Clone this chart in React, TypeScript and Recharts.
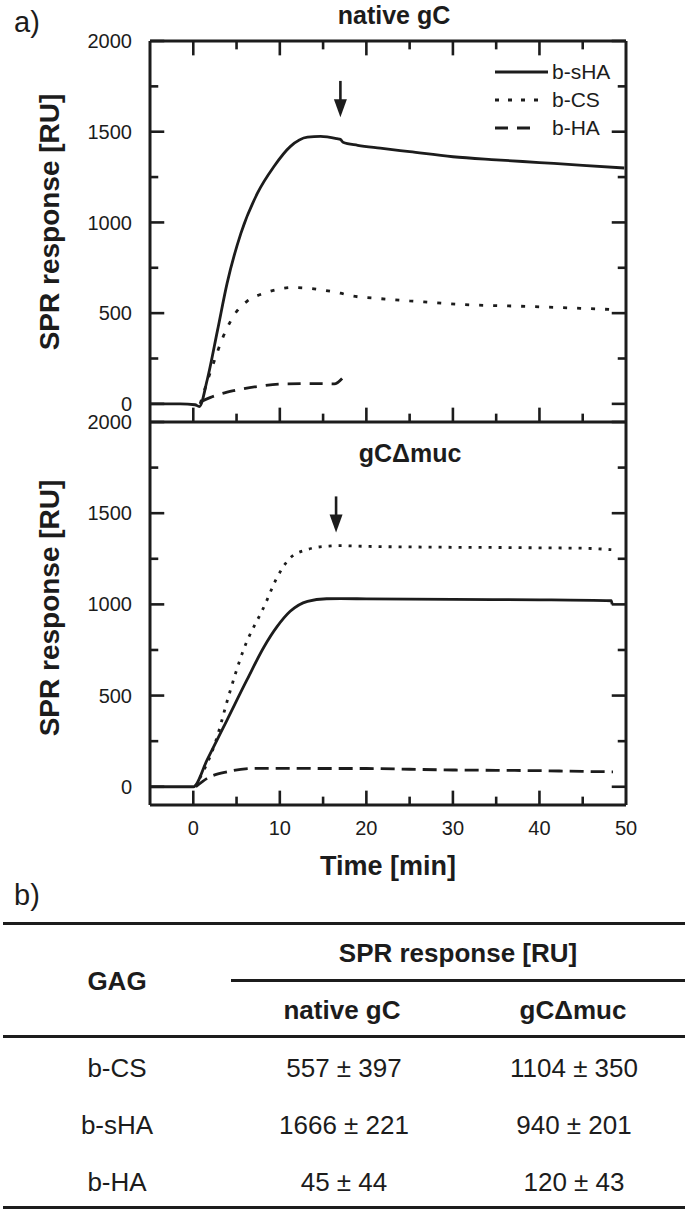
import React from 'react';
import {
    LineChart,
    Line,
    XAxis,
    YAxis,
    ReferenceLine,
    ReferenceDot,
    Legend,
} from 'recharts';

// ---- data ----
const xMajor = [0, 10, 20, 30, 40, 50];
const xMinor = [5, 15, 25, 35, 45];
const yMajor = [0, 500, 1000, 1500, 2000];
const yMinor = [250, 750, 1250, 1750];

// panel a, native gC
const nativeShaT = [-5, -1.5, 0.2, 0.7, 1.6, 2.8, 3.9, 5.5, 7.4, 9.3, 11.2, 13.2, 14.7, 16.6, 17.0, 17.3, 19, 21.6, 25, 30, 35, 40, 45, 49.8];
const nativeShaV = [0, 0, -5, -15, 130, 405, 663, 940, 1160, 1307, 1418, 1470, 1474, 1462, 1458, 1442, 1425, 1409, 1390, 1362, 1345, 1330, 1315, 1300];
const nativeCsT = [0.8, 1.8, 2.6, 3.2, 4.3, 5.1, 6.2, 8.2, 9.7, 11.4, 13.5, 15.1, 17, 18, 21.6, 25, 31, 38.6, 44, 48.8];
const nativeCsV = [0, 150, 260, 340, 455, 515, 565, 610, 630, 641, 636, 626, 610, 598, 580, 568, 548, 537, 528, 519];
const nativeHaT = [1.0, 2.0, 4.7, 7.4, 10.4, 13.9, 16.3, 17.2];
const nativeHaV = [15, 36, 73, 96, 110, 112, 110, 140];

// panel a, gC delta muc
const mucShaT = [-5, 0, 1.6, 3.9, 6.2, 8.2, 9.7, 11.2, 13.2, 15.4, 17, 20, 30, 40, 48.3, 48.4];
const mucShaV = [0, 0, 147, 366, 586, 769, 879, 962, 1017, 1031, 1032, 1030, 1027, 1025, 1020, 1000];
const mucCsT = [0.2, 2.6, 4.1, 5.8, 8.3, 9.6, 11.2, 13.2, 15.4, 17, 20, 25, 30, 35, 40, 45, 48.3];
const mucCsV = [0, 250, 500, 750, 1000, 1140, 1255, 1301, 1319, 1322, 1318, 1315, 1313, 1312, 1310, 1308, 1300];
const mucHaT = [0.3, 1.6, 3.9, 7.4, 11.2, 15, 20, 25, 30, 35, 40.3, 45, 48.5];
const mucHaV = [0, 46, 82, 101, 101, 100, 100, 96, 92, 90, 88, 84, 82];

// arrows: [time, start, tip]
const arrowNative = [17, 1780, 1580];
const arrowMuc = [16.5, 1592, 1394];

// panel b table
const tableGags = ['b-CS', 'b-sHA', 'b-HA'];
const tableNative = ['557 ± 397', '1666 ± 221', '45 ± 44'];
const tableMuc = ['1104 ± 350', '940 ± 201', '120 ± 43'];

const X_DOMAIN = [-5, 50];
const Y_DOMAIN = [-100, 2000];

const INK = '#1c1c1c';
const FONT = '"Liberation Sans", Arial, sans-serif';

const toPts = (t: number[], v: number[]) => t.map((x, i) => ({ t: x, v: v[i] }));

const seriesStyle = [
    { name: 'b-sHA', dash: undefined as string | undefined, len: 54 },
    { name: 'b-CS', dash: '4 9', len: 45 },
    { name: 'b-HA', dash: '13 9', len: 44 },
];

// tick marks: anchor on the frame (slightly inside), drawn inward
type TickMark = { k: string; x: number; y: number; dx: number; dy: number };
const frameMarks = (withTop: boolean) => {
    const out: TickMark[] = [];
    const xs = [...xMajor.slice(0, -1).map((v) => [v, 14]), ...xMinor.map((v) => [v, 8])];
    xs.forEach(([v, len]) => {
        out.push({ k: `b${v}`, x: v, y: Y_DOMAIN[0] + 2, dx: 0, dy: -len });
        if (withTop) out.push({ k: `t${v}`, x: v, y: Y_DOMAIN[1] - 2, dx: 0, dy: len });
    });
    const ys = [...yMajor.map((v) => [v, 14]), ...yMinor.map((v) => [v, 8])];
    ys.forEach(([v, len]) => {
        out.push({ k: `l${v}`, x: X_DOMAIN[0] + 0.03, y: v, dx: len, dy: 0 });
        out.push({ k: `r${v}`, x: X_DOMAIN[1] - 0.03, y: v, dx: -len, dy: 0 });
    });
    return out;
};

const Arrow = (p: any) => (
    <path d={`M${p.cx - 6.5},${p.cy - 18} L${p.cx + 6.5},${p.cy - 18} L${p.cx},${p.cy} Z`} fill={INK} />
);

const LegendBox = () => (
    <div style={{ fontFamily: FONT, fontSize: 21, color: INK }}>
        {seriesStyle.map((s) => (
            <div key={s.name} style={{ display: 'flex', alignItems: 'center', height: 28 }}>
                <svg width={56} height={10} style={{ marginRight: 2 }}>
                    <line x1={1} x2={s.len} y1={5} y2={5} stroke={INK} strokeWidth={3} strokeDasharray={s.dash} />
                </svg>
                <span>{s.name}</span>
            </div>
        ))}
    </div>
);

const axisLineStyle = { stroke: INK, strokeWidth: 3 };
const tickText = { fontSize: 20, fill: INK, fontFamily: FONT };

const Panel = ({ sha, cs, ha, arrow, height, margin, xLabels, showLegend, csDash, haDash, topAxisLine }: any) => (
    <LineChart width={688} height={height} margin={margin}>
        <XAxis
            xAxisId="b"
            type="number"
            dataKey="t"
            domain={X_DOMAIN}
            ticks={xMajor}
            interval={0}
            allowDataOverflow
            height={1}
            tickSize={0}
            tickMargin={16}
            axisLine={axisLineStyle}
            tickLine={false}
            tick={xLabels ? tickText : false}
        />
        <XAxis
            xAxisId="t"
            orientation="top"
            type="number"
            domain={X_DOMAIN}
            ticks={xMajor}
            allowDataOverflow
            height={1}
            axisLine={topAxisLine ? axisLineStyle : false}
            tickLine={false}
            tick={false}
        />
        <YAxis
            yAxisId="l"
            type="number"
            domain={Y_DOMAIN}
            ticks={yMajor}
            interval={0}
            allowDataOverflow
            width={1}
            tickSize={0}
            tickMargin={18}
            axisLine={axisLineStyle}
            tickLine={false}
            tick={tickText}
        />
        <YAxis
            yAxisId="r"
            orientation="right"
            type="number"
            domain={Y_DOMAIN}
            ticks={yMajor}
            allowDataOverflow
            width={1}
            axisLine={axisLineStyle}
            tickLine={false}
            tick={false}
        />
        <Line xAxisId="b" yAxisId="l" data={sha} dataKey="v" name="b-sHA" type="monotone" stroke={INK} strokeWidth={2.8} dot={false} isAnimationActive={false} />
        <Line xAxisId="b" yAxisId="l" data={cs} dataKey="v" name="b-CS" type="monotone" stroke={INK} strokeWidth={2.8} strokeDasharray={csDash} dot={false} isAnimationActive={false} />
        <Line xAxisId="b" yAxisId="l" data={ha} dataKey="v" name="b-HA" type="monotone" stroke={INK} strokeWidth={2.8} strokeDasharray={haDash} dot={false} isAnimationActive={false} />
        <ReferenceLine
            xAxisId="b"
            yAxisId="l"
            segment={[{ x: arrow[0], y: arrow[1] }, { x: arrow[0], y: arrow[2] + 60 }]}
            stroke={INK}
            strokeWidth={2.6}
        />
        <ReferenceDot xAxisId="b" yAxisId="l" x={arrow[0]} y={arrow[2]} r={0} shape={(p: any) => <Arrow {...p} />} />
        {frameMarks(topAxisLine).map((m) => (
            <ReferenceDot
                key={m.k}
                xAxisId="b"
                yAxisId="l"
                x={m.x}
                y={m.y}
                r={0}
                ifOverflow="visible"
                shape={(p: any) => (
                    <path d={`M${p.cx},${p.cy} L${p.cx + m.dx},${p.cy + m.dy}`} stroke={INK} strokeWidth={2.6} fill="none" />
                )}
            />
        ))}
        {showLegend && (
            <Legend
                layout="vertical"
                align="center"
                verticalAlign="middle"
                content={() => <LegendBox />}
                wrapperStyle={{ left: 494, top: 58, width: 140 }}
            />
        )}
    </LineChart>
);

const abs = (left: number, top: number, extra: React.CSSProperties = {}): React.CSSProperties => ({
    position: 'absolute',
    left,
    top,
    transform: 'translate(-50%, -50%)',
    whiteSpace: 'nowrap',
    fontFamily: FONT,
    color: INK,
    ...extra,
});

const rule = (top: number, left: number, width: number): React.CSSProperties => ({
    position: 'absolute',
    top,
    left,
    width,
    height: 2.5,
    background: INK,
});

export default function App() {
    const rowY = [1068, 1125, 1182];
    return (
        <div style={{ position: 'absolute', left: 0, top: 0, width: 688, height: 1213, background: '#fff', fontFamily: FONT }}>
            <div style={abs(27, 22, { fontSize: 29 })}>a)</div>
            <div style={abs(394, 15, { fontSize: 25, fontWeight: 700 })}>native gC</div>

            <div style={{ position: 'absolute', left: 0, top: 0 }}>
                <Panel
                    sha={toPts(nativeShaT, nativeShaV)}
                    cs={toPts(nativeCsT, nativeCsV)}
                    ha={toPts(nativeHaT, nativeHaV)}
                    arrow={arrowNative}
                    height={440}
                    margin={{ top: 40, right: 61, bottom: 17, left: 149 }}
                    xLabels={false}
                    showLegend
                    csDash="4 10"
                    haDash="13 9"
                    topAxisLine
                />
            </div>
            <div style={{ position: 'absolute', left: 0, top: 400 }}>
                <Panel
                    sha={toPts(mucShaT, mucShaV)}
                    cs={toPts(mucCsT, mucCsV)}
                    ha={toPts(mucHaT, mucHaV)}
                    arrow={arrowMuc}
                    height={500}
                    margin={{ top: 21, right: 61, bottom: 94, left: 149 }}
                    xLabels
                    showLegend={false}
                    csDash="3 7"
                    haDash="14 7"
                    topAxisLine={false}
                />
            </div>
            <div style={abs(410, 453, { fontSize: 25, fontWeight: 700 })}>gCΔmuc</div>

            <div style={abs(50, 222, { fontSize: 28, fontWeight: 700, transform: 'translate(-50%, -50%) rotate(-90deg)' })}>SPR response [RU]</div>
            <div style={abs(50, 608, { fontSize: 28, fontWeight: 700, transform: 'translate(-50%, -50%) rotate(-90deg)' })}>SPR response [RU]</div>
            <div style={abs(388, 866, { fontSize: 27, fontWeight: 700 })}>Time [min]</div>

            {/* panel b */}
            <div style={abs(27, 895, { fontSize: 29 })}>b)</div>
            <div style={rule(922, 3, 682)} />
            <div style={abs(458, 953, { fontSize: 26, fontWeight: 700 })}>SPR response [RU]</div>
            <div style={abs(117, 981, { fontSize: 26, fontWeight: 700 })}>GAG</div>
            <div style={rule(979, 231, 454)} />
            <div style={abs(342, 1010, { fontSize: 26, fontWeight: 700 })}>native gC</div>
            <div style={abs(573, 1010, { fontSize: 26, fontWeight: 700 })}>gCΔmuc</div>
            <div style={rule(1035, 3, 682)} />
            {tableGags.map((g, i) => (
                <React.Fragment key={g}>
                    <div style={abs(117, rowY[i], { fontSize: 26 })}>{g}</div>
                    <div style={abs(344, rowY[i], { fontSize: 26 })}>{tableNative[i]}</div>
                    <div style={abs(574, rowY[i], { fontSize: 26 })}>{tableMuc[i]}</div>
                </React.Fragment>
            ))}
            <div style={rule(1206, 3, 682)} />
        </div>
    );
}
